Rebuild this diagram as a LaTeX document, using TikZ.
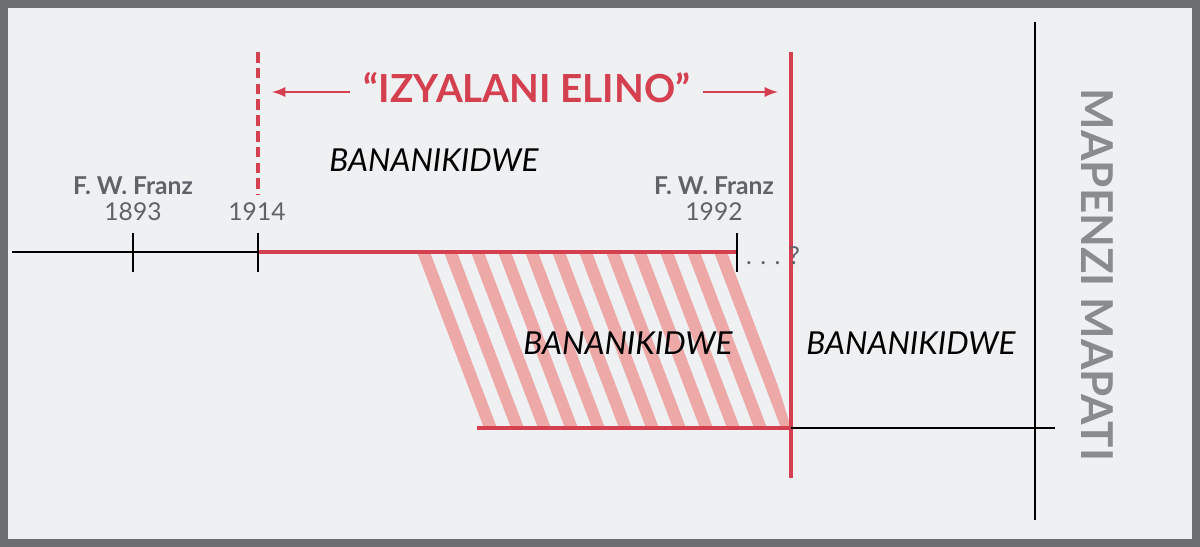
\documentclass[tikz,border=0pt]{standalone}
\usepackage{fontspec}
\setmainfont{Lato}
\definecolor{bg}{HTML}{EFF0F2}
\definecolor{frame}{HTML}{6D6E71}
\definecolor{jred}{HTML}{D4404F}
\definecolor{hatch}{HTML}{EDA8A8}
\definecolor{gtxt}{HTML}{5F6368}
\begin{document}
\begin{tikzpicture}[x=0.02cm,y=-0.02cm,
  blk/.style={line width=1.6pt,black},
  rl/.style={line width=2.4pt,jred},
  yr/.style={font=\fontsize{14}{16}\selectfont,text=gtxt},
  nm/.style={font=\bfseries\fontsize{14}{16}\selectfont,text=gtxt},
  bk/.style={font=\itshape\fontsize{18}{22}\selectfont}]
\useasboundingbox (0,0) rectangle (1200,547);
\draw[line width=5pt,frame,fill=bg] (4,4) rectangle (1196,543);
% hatch
\begin{scope}
\clip (410,252) -- (737,252) -- (791,428) -- (477,428) -- cycle;
\foreach \i in {0,...,16} {
  \fill[hatch] ({390+27*\i},252) -- ({403+27*\i},252) -- ({470+27*\i},428) -- ({457+27*\i},428) -- cycle;
}
\end{scope}
% verticals
\coordinate (d1) at (258,52); \coordinate (d2) at (258,195);
\draw[rl,dashed,dash pattern=on 6pt off 3pt] (d1) -- (d2);
\coordinate (r1) at (791,52); \coordinate (r2) at (791,478);
\draw[rl] (r1) -- (r2);
\coordinate (b1) at (1035,22); \coordinate (b2) at (1035,520);
\draw[blk] (b1) -- (b2);
% timeline
\coordinate (t0) at (12,252); \coordinate (t1) at (258,252); \coordinate (t2) at (737,252);
\draw[blk] (t0) -- (t1);
\draw[rl] (t1) -- (t2);
\coordinate (u0) at (477,428); \coordinate (u1) at (791,428); \coordinate (u2) at (1055,428);
\draw[rl] (u0) -- (u1);
\draw[blk] (u1) -- (u2);
\foreach \x in {133,258,737} \draw[blk] (\x,233) -- (\x,272);
\node[yr,anchor=west] (q) at (740,256) {. . . ?};
% labels
\node[nm] (n1) at (133,186) {F. W. Franz};
\node[yr] (y1) at (133,212) {1893};
\node[yr] (y2) at (257,212) {1914};
\node[nm] (n2) at (714,186) {F. W. Franz};
\node[yr] (y3) at (714,212) {1992};
\node[bk] (k1) at (434,160) {BANANIKIDWE};
\node[bk] (k2) at (628,343) {BANANIKIDWE};
\node[bk] (k3) at (911,343) {BANANIKIDWE};
\node[font=\bfseries\fontsize{22}{26}\selectfont,text=jred] (t) at (527,88) {“IZYALANI ELINO”};
\draw[rl,line width=1.6pt,-latex] (350,92) -- (272,92);
\draw[rl,line width=1.6pt,-latex] (703,92) -- (778,92);
\node[font=\bfseries\fontsize{25}{28}\selectfont,text=frame!80,rotate=-90] (mm) at (1097,275) {MAPENZI MAPATI};
\end{tikzpicture}
\end{document}
